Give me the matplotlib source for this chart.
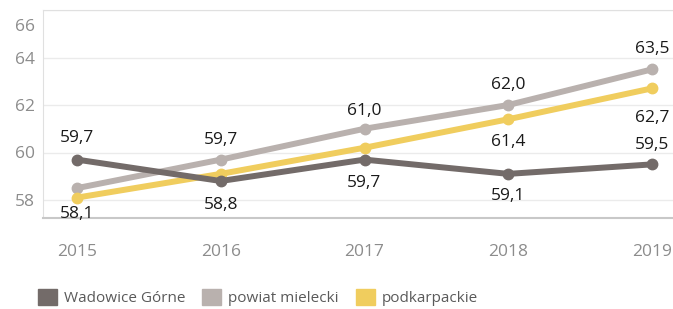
import matplotlib.pyplot as plt
from matplotlib.patches import Patch
from matplotlib.transforms import ScaledTranslation

years = [2015, 2016, 2017, 2018, 2019]
wadowice = [59.7, 58.8, 59.7, 59.1, 59.5]
powiat = [58.5, 59.7, 61.0, 62.0, 63.5]
podkarpackie = [58.1, 59.1, 60.2, 61.4, 62.7]
series_names = ['Wadowice Górne', 'powiat mielecki', 'podkarpackie']
yticks = [58, 60, 62, 64, 66]

# which points get a label and where (offset in px, + is up)
wad_offsets = [22, -24, -23, -22, 19]
pow_offsets = [None, 20, 18, 20, 20]
pod_offsets = [-16, None, None, -23, -30]

c_wad = '#736b69'
c_pow = '#b9b1ae'
c_pod = '#f0cd5e'

plt.rcParams['font.family'] = ['Open Sans', 'DejaVu Sans']

fig = plt.figure(figsize=(6.73, 3.09), dpi=100)
ax = fig.add_axes([43 / 673, 1 - 218 / 309, 1 - 43 / 673, 208 / 309])

ax.plot(years, powiat, color=c_pow, lw=4.3, marker='o', ms=7.5, zorder=3, solid_capstyle='butt')
ax.plot(years, podkarpackie, color=c_pod, lw=4.3, marker='o', ms=7.5, zorder=4, solid_capstyle='butt')
ax.plot(years, wadowice, color=c_wad, lw=4.3, marker='o', ms=7.5, zorder=5, solid_capstyle='butt')


def label(vals, offs):
    for x, v, o in zip(years, vals, offs):
        if o is None:
            continue
        ax.annotate(f'{v:.1f}'.replace('.', ','), (x, v), xytext=(0, o * 0.72),
                    textcoords='offset points', ha='center', va='center',
                    fontsize=12.5, color='#1a1a1a', zorder=6)


label(wadowice, wad_offsets)
label(powiat, pow_offsets)
label(podkarpackie, pod_offsets)

ax.set_xlim(2015 - 34 / 143.75, 2019 + 21 / 143.75)
ax.set_ylim(58 - 18 / 23.75, 66)
ax.set_xticks(years)
ax.set_yticks(yticks)
ax.grid(axis='y', color='#ebebeb', lw=1)
ax.set_axisbelow(True)
ax.tick_params(length=0, labelcolor='#8c8c8c', labelsize=12.5)
ax.tick_params(axis='x', pad=19)
ax.tick_params(axis='y', pad=6)

for s in ['left', 'top']:
    ax.spines[s].set_color('#e0e0e0')
ax.spines['bottom'].set_color('#c8c8c8')
ax.spines['bottom'].set_linewidth(1.5)
ax.spines['right'].set_visible(False)

# 66 label sits lower than its line in the original
lab = ax.yaxis.get_major_ticks()[-1].label1
lab.set_transform(lab.get_transform() + ScaledTranslation(0, -0.15, fig.dpi_scale_trans))

handles = [Patch(color=c) for c in [c_wad, c_pow, c_pod]]
fig.legend(handles, series_names, loc='lower left', bbox_to_anchor=(24 / 673, -0.035), ncol=3,
           frameon=False, fontsize=11, handlelength=1.25, handleheight=1.25,
           handletextpad=0.46, columnspacing=1.1, labelcolor='#5a5a5a')

fig.savefig('out.png', dpi=100)
